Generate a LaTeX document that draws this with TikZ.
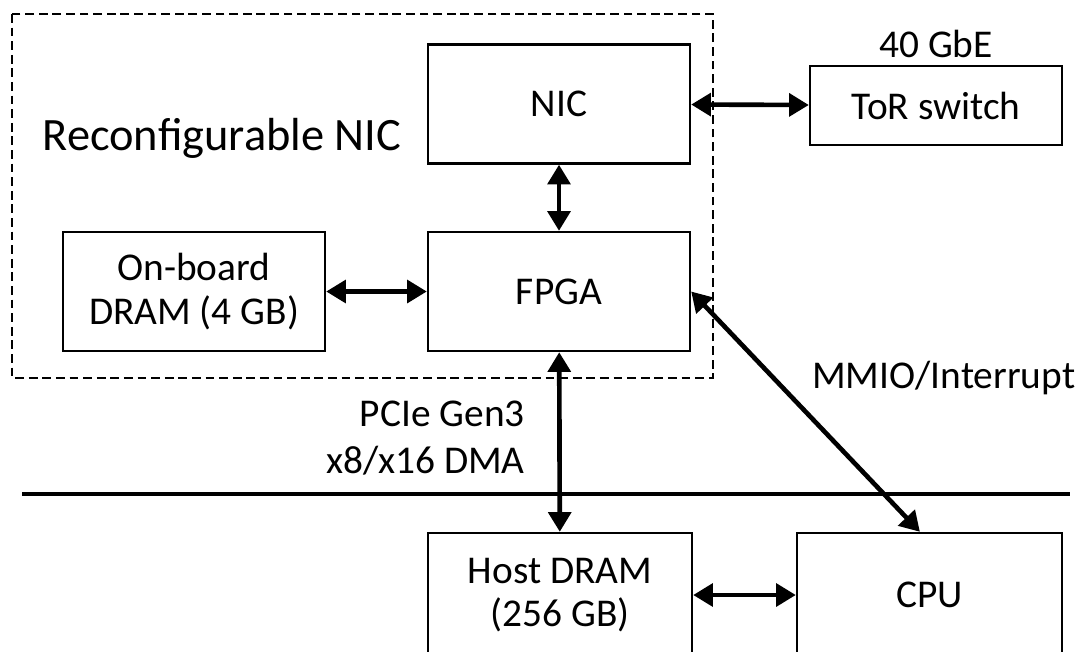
\documentclass[tikz,border=0pt]{standalone}
\usepackage{fontspec}
\setmainfont{Carlito}
\usepackage{tikz}
\usetikzlibrary{arrows.meta}

\begin{document}
\begin{tikzpicture}[
  link/.style={line width=3.3pt, {Triangle[length=14pt,width=16pt]}-{Triangle[length=14pt,width=16pt]}},
  txt/.style={font=\fontsize{28}{31}\selectfont, align=center, inner sep=0pt}
]
\useasboundingbox (0,0) rectangle (27.025,-16.275);
\clip (0,0) rectangle (27.025,-16.275);

% board outline
\draw[line width=1.9pt, dash pattern=on 0.22cm off 0.12cm] (0.3,-0.35) rectangle (17.825,-9.45);
\node[txt, font=\fontsize{33}{38}\selectfont] (board) at (5.55,-3.45) {Reconfigurable NIC};

\begin{scope}[every node/.style={draw, line width=1.7pt, txt, minimum width=6.55cm, minimum height=2.975cm}]
\node (nic) at (13.975,-2.6) {NIC};
\node (fpga) at (13.975,-7.2875) {FPGA};
\node (dram) at (4.85,-7.2875) {On-board\\DRAM (4 GB)};
\node[minimum width=6.3cm, minimum height=1.975cm] (tor) at (23.4,-2.6375) {ToR switch};

\node[minimum width=6.6cm, minimum height=3.1cm] (host) at (14,-14.875) {Host DRAM\\(256 GB)};
\node[minimum width=6.625cm, minimum height=3.1cm] (cpu) at (23.2375,-14.875) {CPU};
\end{scope}

% labels
\node[txt] (gbe) at (23.4,-1.1) {40 GbE};
\node[txt, anchor=east, align=right, font=\fontsize{28}{33}\selectfont] (pcie) at (13.125,-10.95) {PCIe Gen3\\x8/x16 DMA};
\node[txt, anchor=west] (mmio) at (20.3,-9.45) {MMIO/Interrupt};

% host / board separator
\coordinate (sepl) at (0.55,-12.35);
\coordinate (sepr) at (26.75,-12.35);
\draw[line width=2.6pt] (sepl) -- (sepr);

\draw[link] (nic) -- (tor);
\draw[link] (nic) -- (fpga);
\draw[link] (dram) -- (fpga);
\draw[link] (fpga) -- (host);
\draw[link] (host) -- (cpu);
\draw[link] (fpga.east) -- ([xshift=-0.24cm]cpu.north);

\end{tikzpicture}
\end{document}
